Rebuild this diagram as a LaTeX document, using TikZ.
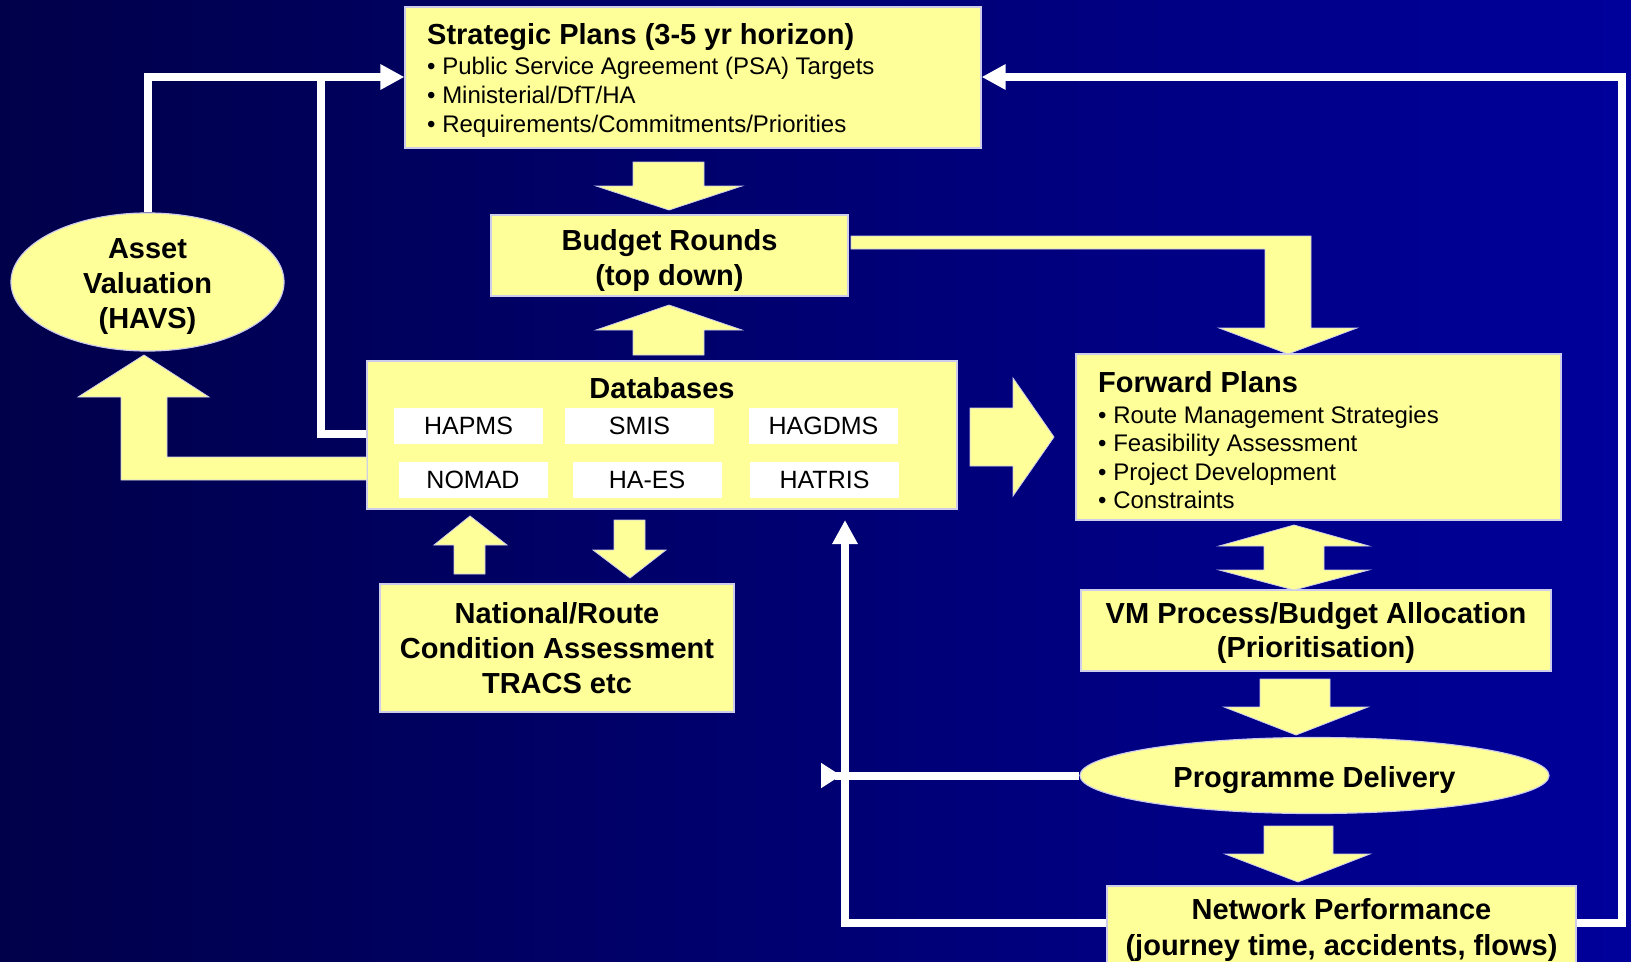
\documentclass[tikz,border=0pt]{standalone}
\usepackage{fontspec}
\setmainfont{Liberation Sans}
\usetikzlibrary{shapes.geometric,arrows.meta}
\definecolor{pale}{RGB}{255,255,153}
\definecolor{rim}{RGB}{205,205,235}
\definecolor{navyL}{RGB}{0,0,74}
\definecolor{navyR}{RGB}{0,0,155}
\pgfdeclarelayer{backdrop}
\pgfdeclarelayer{wires}
\pgfsetlayers{backdrop,wires,main}
\tikzset{
  panel/.style={rectangle, draw=rim, line width=1.2bp, fill=pale, inner sep=0pt},
  oval/.style={ellipse, draw=rim, line width=1.2bp, fill=pale, inner sep=0pt},
  tag/.style={rectangle, fill=white, inner sep=0pt, minimum width=149bp, minimum height=36bp,
    font=\fontsize{25bp}{30bp}\selectfont},
  head/.style={font=\fontsize{29bp}{35bp}\selectfont\bfseries, inner sep=0pt, anchor=base},
  headl/.style={head, anchor=base west},
  item/.style={font=\fontsize{24bp}{29bp}\selectfont, inner sep=0pt, anchor=base west},
  fat/.style={fill=pale, draw=rim, line width=0.8bp, line join=miter},
  wire/.style={draw=white, line width=8bp},
  tip/.style={-{Triangle[length=24bp,width=24bp]}}
}
\begin{document}
\begin{tikzpicture}[x=1bp,y=-1bp]
% canvas and backdrop
\useasboundingbox (0,0) rectangle (1631,961);
\begin{pgfonlayer}{backdrop}
\shade[left color=navyL, right color=navyR] (0,0) rectangle (1631,961);
\end{pgfonlayer}

% helper coordinates for the wire rows and columns
\coordinate (top) at (0,77);
\coordinate (ydb) at (0,434);
\coordinate (ybot) at (0,923);
\coordinate (rcol) at (1622,77);
\coordinate (lcol) at (321,73);
\coordinate (dbin) at (845,520);
\coordinate (pdend) at (821,0);

% boxes
\node[panel, minimum width=576bp, minimum height=141bp] (sp) at (693,77.5) {};
\node[panel, minimum width=357bp, minimum height=81bp] (br) at (669.5,255.5) {};
\node[oval, minimum width=273bp, minimum height=138bp] (av) at (147.5,282) {};
\node[panel, minimum width=590bp, minimum height=148bp] (db) at (662,435) {};
\node[panel, minimum width=485bp, minimum height=166bp] (fp) at (1318.5,437) {};
\node[panel, minimum width=354bp, minimum height=128bp] (nr) at (557,648) {};
\node[panel, minimum width=470bp, minimum height=81bp] (vm) at (1316,630.5) {};
\node[oval, minimum width=469bp, minimum height=76bp] (pd) at (1314.5,775.5) {};
\node[panel, minimum width=469bp, minimum height=90bp] (np) at (1341.5,931) {};

% white feedback wires, kept behind the boxes
\begin{pgfonlayer}{wires}
\draw[wire, tip] (av.north) |- (sp.west |- top);
\draw[wire] (db.west |- ydb) -| (lcol);
\draw[wire, tip] (np.east |- ybot) -| (rcol) -- (sp.east |- top);
\draw[wire, tip] (np.west |- ybot) -| (dbin);
\draw[wire, -{Triangle[reversed,length=20bp,width=24bp]}] (pd.west) -- (pd.west -| pdend);
\end{pgfonlayer}

% block arrows
\filldraw[fat] (633,162) -- (704,162) -- (704,186) -- (742,186) -- (669,210) -- (596,186) -- (633,186) -- cycle;
\filldraw[fat] (633,355) -- (704,355) -- (704,330) -- (742,330) -- (669,305) -- (596,330) -- (633,330) -- cycle;
\filldraw[fat] (367,457) -- (167,457) -- (167,397) -- (209,397) -- (144,355) -- (78,397) -- (121,397) -- (121,480) -- (367,480) -- cycle;
\filldraw[fat] (851,236) -- (1311,236) -- (1311,328) -- (1357,328) -- (1288,354) -- (1219,328) -- (1265,328) -- (1265,249) -- (851,249) -- cycle;
\filldraw[fat] (970,408) -- (1013,408) -- (1013,378) -- (1054,437) -- (1013,496) -- (1013,466) -- (970,466) -- cycle;
\filldraw[fat] (1294,525) -- (1369,546) -- (1324,546) -- (1324,570) -- (1369,570) -- (1294,590) -- (1219,570) -- (1264,570) -- (1264,546) -- (1219,546) -- cycle;
\filldraw[fat] (1260,679) -- (1330,679) -- (1330,707) -- (1368,707) -- (1296,735) -- (1224,707) -- (1260,707) -- cycle;
\filldraw[fat] (1264,826) -- (1333,826) -- (1333,854) -- (1370,854) -- (1298,882) -- (1225,854) -- (1264,854) -- cycle;
\filldraw[fat] (470,516) -- (507,545) -- (485,545) -- (485,574) -- (454,574) -- (454,545) -- (434,545) -- cycle;
\filldraw[fat] (614,520) -- (645,520) -- (645,550) -- (666,550) -- (630,578) -- (593,550) -- (614,550) -- cycle;

% strategic plans
\node[headl] (sp-t) at (427,44) {Strategic Plans (3-5 yr horizon)};
\node[item] (sp-1) at (427,74) {• Public Service Agreement (PSA) Targets};
\node[item] (sp-2) at (427,103) {• Ministerial/DfT/HA};
\node[item] (sp-3) at (427,132) {• Requirements/Commitments/Priorities};

% budget rounds
\node[head] (br-1) at (669.5,250) {Budget Rounds};
\node[head] (br-2) at (669.5,285) {(top down)};

% asset valuation
\node[head] (av-1) at (147.5,258) {Asset};
\node[head] (av-2) at (147.5,293) {Valuation};
\node[head] (av-3) at (147.5,328) {(HAVS)};

% databases
\node[head] (db-t) at (662,398.5) {Databases};
\node[tag] (t1) at (468.5,426) {HAPMS};
\node[tag] (t2) at (639.5,426) {SMIS};
\node[tag] (t3) at (823.5,426) {HAGDMS};
\node[tag] (t4) at (473,480) {NOMAD};
\node[tag] (t5) at (647,480) {HA-ES};
\node[tag] (t6) at (824.5,480) {HATRIS};

% national / route condition assessment
\node[head] (nr-1) at (557,623) {National/Route};
\node[head] (nr-2) at (557,658) {Condition Assessment};
\node[head] (nr-3) at (557,693) {TRACS etc};

% forward plans
\node[headl] (fp-t) at (1098,392) {Forward Plans};
\node[item] (fp-1) at (1098,423) {• Route Management Strategies};
\node[item] (fp-2) at (1098,451.5) {• Feasibility Assessment};
\node[item] (fp-3) at (1098,480) {• Project Development};
\node[item] (fp-4) at (1098,508) {• Constraints};

% value management
\node[head] (vm-1) at (1316,623.5) {VM Process/Budget Allocation};
\node[head] (vm-2) at (1316,657.5) {(Prioritisation)};

% delivery and performance
\node[head] (pd-t) at (1314.5,787) {Programme Delivery};
\node[head] (np-1) at (1341.5,919) {Network Performance};
\node[head] (np-2) at (1341.5,955) {(journey time, accidents, flows)};
\end{tikzpicture}
\end{document}
